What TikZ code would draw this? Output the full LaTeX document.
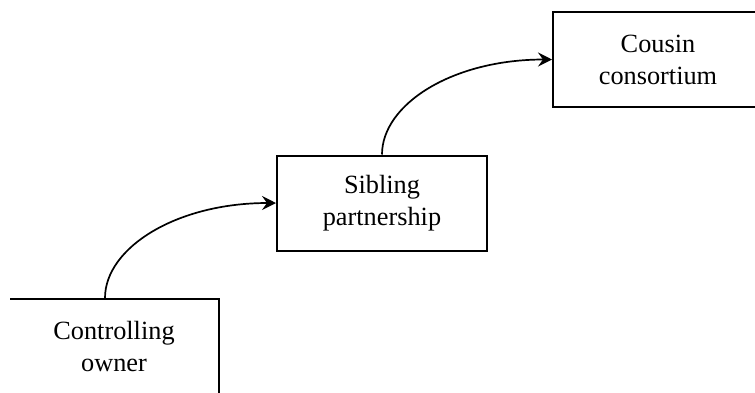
\documentclass[tikz,border=0pt]{standalone}
\usepackage{fontspec}
\setmainfont{Liberation Serif}
\usetikzlibrary{arrows.meta}
\begin{document}
\begin{tikzpicture}[x=1pt,y=-1pt,
  stagebox/.style={draw=black, line width=2pt, rectangle, minimum width=210pt, minimum height=95pt,
    inner sep=0pt, align=center, font=\fontsize{26.3}{32}\selectfont},
  flow/.style={line width=1.7pt, -{Stealth[length=14pt,width=14pt,inset=5pt]}}]
\useasboundingbox (0,0) rectangle (755,392);
\clip (10.2,0) rectangle (755,392);
\node[stagebox] (b1) at (114,346.5) {Controlling\\owner};
\node[stagebox] (b2) at (382,203) {Sibling\\partnership};
\node[stagebox] (b3) at (658,59.5) {Cousin\\consortium};
\draw[flow] ([xshift=-9pt]b1.north) .. controls +(0,-50) and +(-100,0) .. (b2.west);
\draw[flow] (b2.north) .. controls +(0,-50) and +(-100,0) .. (b3.west);
\end{tikzpicture}
\end{document}
